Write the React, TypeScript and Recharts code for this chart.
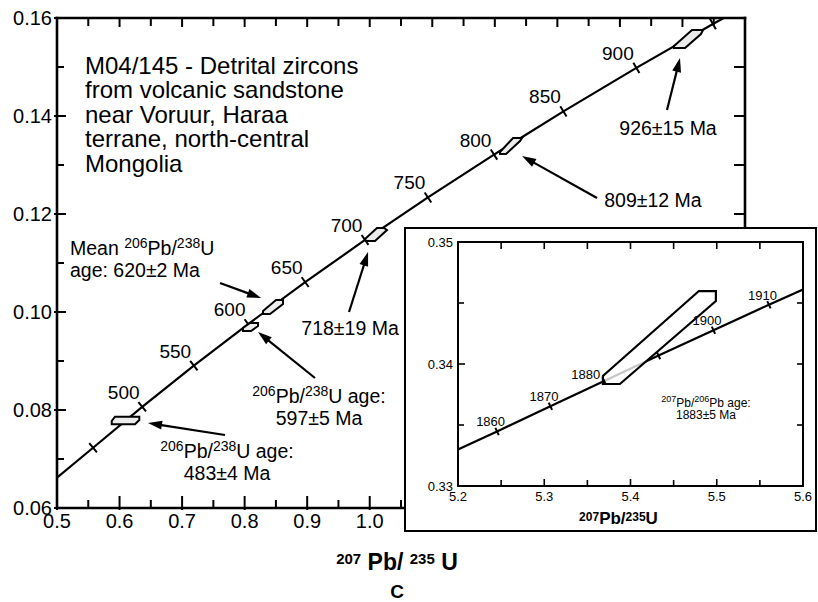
import React from 'react';
import { ScatterChart, Scatter, XAxis, YAxis } from 'recharts';

const FONT = '"Liberation Sans", Arial, Helvetica, sans-serif';

// ---------- main concordia diagram ----------
const mainXMajor = [0.5, 0.6, 0.7, 0.8, 0.9, 1.0, 1.1, 1.2, 1.3, 1.4, 1.5, 1.6];
const mainXMinor = [0.55, 0.65, 0.75, 0.85, 0.95, 1.05, 1.15, 1.25, 1.35, 1.45, 1.55];
// labelled x values (the rest of the axis lies under the inset)
const mainXLabelled = [0.5, 0.6, 0.7, 0.8, 0.9, 1.0];
const mainYMajor = [0.06, 0.08, 0.1, 0.12, 0.14, 0.16];
const mainYMinor = [0.07, 0.09, 0.11, 0.13, 0.15];

// concordia nodes every 50 Ma (207Pb/235U, 206Pb/238U)
const mainAges = [450, 500, 550, 600, 650, 700, 750, 800, 850, 900, 950];
const mainAgeX = [0.5577, 0.6362, 0.7188, 0.8056, 0.8968, 0.9925, 1.0931, 1.1987, 1.3097, 1.4263, 1.5487];
const mainAgeY = [0.0723, 0.08065, 0.08906, 0.09754, 0.10609, 0.1147, 0.12338, 0.13213, 0.14094, 0.14983, 0.15878];
const mainAgeLabels = ['', '500', '550', '600', '650', '700', '750', '800', '850', '900', ''];
const mainCurveStart = { x: 0.5, y: 0.0662 };
const mainCurveEnd = { x: 1.566, y: 0.16 };

// 2-sigma error envelopes of the analysed grains
const ellipse483 = [[0.5927, 0.07863], [0.6316, 0.07863], [0.6316, 0.07796], [0.6247, 0.07708], [0.5875, 0.07708], [0.5875, 0.07776]];
const ellipse597 = [[0.7974, 0.09673], [0.8086, 0.09776], [0.8214, 0.09776], [0.8214, 0.09714], [0.8102, 0.09612], [0.7974, 0.09612]];
const ellipse620 = [[0.8294, 0.1002], [0.8502, 0.10245], [0.8614, 0.10245], [0.8614, 0.10163], [0.8406, 0.09959], [0.8294, 0.09959]];
const ellipse718 = [[0.9924, 0.1149], [1.0116, 0.11714], [1.0228, 0.11714], [1.0276, 0.11673], [1.0084, 0.11449], [0.994, 0.11449]];
const ellipse809 = [[1.2083, 0.13265], [1.2291, 0.13551], [1.2435, 0.13551], [1.2403, 0.1349], [1.2179, 0.13224], [1.2083, 0.13224]];
const ellipse926 = [[1.4865, 0.15429], [1.5153, 0.15755], [1.5329, 0.15755], [1.5296, 0.15673], [1.5041, 0.15388], [1.4865, 0.15388]];
const mainEllipses = [ellipse483, ellipse597, ellipse620, ellipse718, ellipse809, ellipse926];

// arrows: [tail, head]
const mainArrows = [
  [[0.7606, 0.10592], [0.8262, 0.10286]],
  [[0.9669, 0.1], [0.9973, 0.11224]],
  [[0.9125, 0.08653], [0.8214, 0.09592]],
  [[0.7686, 0.0749], [0.6455, 0.07735]],
  [[1.3634, 0.12327], [1.2435, 0.13184]],
  [[1.4753, 0.14122], [1.4961, 0.15184]],
];

const titleAnchor = { x: 0.5448, y: 0.14867 };
const titleLines = [
  'M04/145 - Detrital zircons',
  'from volcanic sandstone',
  'near Voruur, Haraa',
  'terrane, north-central',
  'Mongolia',
];
const meanNote = { x: 0.5208, y: 0.11163, lines: ['Mean ^206^Pb/^238^U', 'age: 620±2 Ma'] };
const centredNotes = [
  { x: 0.9685, y: 0.09531, lines: ['718±19 Ma'] },
  { x: 0.9189, y: 0.08133, lines: ['^206^Pb/^238^U age:', '597±5 Ma'] },
  { x: 0.7718, y: 0.07014, lines: ['^206^Pb/^238^U age:', '483±4 Ma'] },
  { x: 1.4529, y: 0.12143, lines: ['809±12 Ma'] },
  { x: 1.4769, y: 0.13622, lines: ['926±15 Ma'] },
];
const mainAxisTitle = '^207^ Pb/ ^235^ U';
const panelLetter = 'C';

// ---------- inset: Palaeoproterozoic grain ----------
const insetXMajor = [5.2, 5.3, 5.4, 5.5, 5.6];
const insetXMinor = [5.25, 5.35, 5.45, 5.55];
const insetYMajor = [0.33, 0.34, 0.35];
const insetYMinor = [0.335, 0.345];

const insetAges = [1860, 1870, 1880, 1890, 1900, 1910];
const insetAgeX = [5.2453, 5.3071, 5.3695, 5.4325, 5.4962, 5.5605];
const insetAgeY = [0.33447, 0.33654, 0.33861, 0.34069, 0.34277, 0.34486];
const insetAgeLabels = ['1860', '1870', '1880', '', '1900', '1910'];
const insetCurveStart = { x: 5.2, y: 0.333 };
const insetCurveEnd = { x: 5.6, y: 0.3461 };

const ellipse1883 = [[5.368, 0.33902], [5.368, 0.33836], [5.3877, 0.33836], [5.499, 0.34516], [5.499, 0.34598], [5.4793, 0.34598]];
const insetNote = { x: 5.4875, y: 0.3365, lines: ['^207^Pb/^206^Pb age:', '1883±5 Ma'] };
const insetAxisTitle = '^207^Pb/^235^U';

// ---------- helpers ----------
type Pt = { x: number; y: number; age?: number; label?: string };

const near = (v: number, list: number[]) => list.some((q) => Math.abs(q - v) < 1e-9);
const toPts = (arr: number[][]) => arr.map(([x, y]) => ({ x, y }));
const Empty = () => <g />;

function rich(text: string, size: number, sup: number, rise: number) {
  const parts = text.split('^');
  const out: React.ReactNode[] = [];
  let raised = false;
  parts.forEach((s, k) => {
    if (!s) return;
    const want = k % 2 === 1;
    const dy = want === raised ? 0 : want ? -rise : rise;
    raised = want;
    out.push(
      <tspan key={k} fontSize={want ? sup : size} dy={dy}>
        {s}
      </tspan>
    );
  });
  return out;
}

const mainLine: Pt[] = [
  mainCurveStart,
  ...mainAges.map((age, i) => ({ age, x: mainAgeX[i], y: mainAgeY[i], label: mainAgeLabels[i] })),
  mainCurveEnd,
];
const insetLine: Pt[] = [
  insetCurveStart,
  ...insetAges.map((age, i) => ({ age, x: insetAgeX[i], y: insetAgeY[i], label: insetAgeLabels[i] })),
  insetCurveEnd,
];

type TickCfg = {
  majorIn: number;
  majorOut: number;
  minorIn: number;
  size: number;
  margin: number;
  digits: number;
  sw: number;
};

const tickFactory = (
  side: 'bottom' | 'left' | 'top' | 'right',
  majors: number[],
  labelled: number[],
  c: TickCfg
) => (p: any) => {
  const { x, y, payload } = p;
  const v = payload.value as number;
  const major = near(v, majors);
  const withLabel = near(v, labelled);
  const inL = major ? c.majorIn : c.minorIn;
  const outL = major ? c.majorOut : 0;
  let seg = { x1: x, y1: y, x2: x, y2: y };
  let label: React.ReactNode = null;
  const txt = v.toFixed(c.digits);
  if (side === 'bottom') {
    seg = { x1: x, x2: x, y1: y + outL, y2: y - inL };
    if (withLabel)
      label = (
        <text x={x} y={y + c.margin} dy="0.71em" textAnchor="middle" fontSize={c.size} fontFamily={FONT} fill="#000">
          {txt}
        </text>
      );
  } else if (side === 'left') {
    seg = { x1: x - outL, x2: x + inL, y1: y, y2: y };
    if (withLabel)
      label = (
        <text x={x - c.margin} y={y} dy="0.36em" textAnchor="end" fontSize={c.size} fontFamily={FONT} fill="#000">
          {txt}
        </text>
      );
  } else if (side === 'top') {
    seg = { x1: x, x2: x, y1: y, y2: y + inL };
  } else {
    seg = { x1: x, x2: x - inL, y1: y, y2: y };
  }
  return (
    <g>
      <line {...seg} stroke="#000" strokeWidth={c.sw} />
      {label}
    </g>
  );
};

const polygonLine = (fill: string, opacity: number, sw: number) => (p: any) => {
  const pts = (p.points || []) as { x: number; y: number }[];
  return (
    <polygon
      points={pts.map((q) => `${q.x},${q.y}`).join(' ')}
      fill={fill}
      fillOpacity={opacity}
      stroke="#000"
      strokeWidth={sw}
      strokeLinejoin="miter"
    />
  );
};

const arrowLine = (p: any) => {
  const pts = (p.points || []) as { x: number; y: number }[];
  if (pts.length < 2) return <g />;
  const [a, b] = pts;
  const dx = b.x - a.x;
  const dy = b.y - a.y;
  const L = Math.hypot(dx, dy) || 1;
  const ux = dx / L;
  const uy = dy / L;
  const head = 14;
  const half = 4.5;
  const bx = b.x - ux * head;
  const by = b.y - uy * head;
  return (
    <g>
      <line x1={a.x} y1={a.y} x2={bx + ux * 2} y2={by + uy * 2} stroke="#000" strokeWidth={2.2} />
      <polygon
        points={`${b.x},${b.y} ${bx - uy * half},${by + ux * half} ${bx + uy * half},${by - ux * half}`}
        fill="#000"
      />
    </g>
  );
};

// perpendicular age marks on the concordia, with their age labels
const markFactory = (
  line: Pt[],
  pxX: number,
  pxY: number,
  len: number,
  drawLabel: (cx: number, cy: number, pt: Pt) => React.ReactNode
) => (p: any) => {
  const pt = p.payload as Pt;
  const i = line.findIndex((q) => q.age === pt.age);
  const prev = line[Math.max(i - 1, 0)];
  const next = line[Math.min(i + 1, line.length - 1)];
  const dx = (next.x - prev.x) * pxX;
  const dy = -(next.y - prev.y) * pxY;
  const L = Math.hypot(dx, dy) || 1;
  const nx = -dy / L;
  const ny = dx / L;
  const { cx, cy } = p;
  return (
    <g>
      <line
        x1={cx - (nx * len) / 2}
        y1={cy - (ny * len) / 2}
        x2={cx + (nx * len) / 2}
        y2={cy + (ny * len) / 2}
        stroke="#000"
        strokeWidth={2}
      />
      {pt.label ? drawLabel(cx, cy, pt) : null}
    </g>
  );
};

const noteShape = (size: number, sup: number, rise: number, lh: number, anchor: 'start' | 'middle') => (p: any) => {
  const lines = (p.payload.lines || []) as string[];
  return (
    <g>
      {lines.map((ln, i) => (
        <text key={i} x={p.cx} y={p.cy + i * lh} textAnchor={anchor} fontSize={size} fontFamily={FONT} fill="#000">
          {rich(ln, size, sup, rise)}
        </text>
      ))}
    </g>
  );
};

const titleShape = (p: any) => (
  <g>
    {titleLines.map((ln, i) => (
      <text key={i} x={p.cx} y={p.cy + i * 24.6} fontSize={24} fontFamily={FONT} fill="#000">
        {ln}
      </text>
    ))}
  </g>
);

const mainCfgBottom: TickCfg = { majorIn: 12, majorOut: 2, minorIn: 8, size: 20, margin: 6, digits: 1, sw: 2 };
const mainCfgLeft: TickCfg = { majorIn: 9, majorOut: 3, minorIn: 7, size: 20, margin: 5, digits: 2, sw: 2 };
const mainCfgTop: TickCfg = { majorIn: 9, majorOut: 0, minorIn: 8, size: 20, margin: 0, digits: 2, sw: 2 };
const mainCfgRight: TickCfg = { majorIn: 11, majorOut: 0, minorIn: 11, size: 20, margin: 0, digits: 2, sw: 2 };

const insetCfgBottom: TickCfg = { majorIn: 7, majorOut: 0, minorIn: 6, size: 13, margin: 6, digits: 1, sw: 1.6 };
const insetCfgLeft: TickCfg = { majorIn: 7, majorOut: 0, minorIn: 6, size: 13, margin: 5, digits: 2, sw: 1.6 };
const insetCfgTop: TickCfg = { majorIn: 7, majorOut: 0, minorIn: 7, size: 13, margin: 0, digits: 2, sw: 1.6 };
const insetCfgRight: TickCfg = { majorIn: 6, majorOut: 0, minorIn: 6, size: 13, margin: 0, digits: 2, sw: 1.6 };

const sortU = (a: number[], b: number[]) => [...a, ...b].sort((p, q) => p - q);

const MAIN_W = 818;
const MAIN_H = 602;
const mainPxX = 688 / 1.1;
const mainPxY = 490 / 0.1;
const insetPxX = 345 / 0.4;
const insetPxY = 244 / 0.02;

const mainAxisLine = { stroke: '#000', strokeWidth: 2.6, strokeLinecap: 'square' as const };
const insetAxisLine = { stroke: '#000', strokeWidth: 2, strokeLinecap: 'square' as const };

const MainTitleLabel = (p: any) => {
  const vb = p.viewBox || { x: 0, y: 0, width: 0, height: 0 };
  const cx = vb.x + vb.width / 2 - 4;
  return (
    <g>
      <text x={cx} y={vb.y + 62} textAnchor="middle" fontFamily={FONT} fontWeight="bold" fill="#000">
        {rich(mainAxisTitle, 23, 15, 6)}
      </text>
      <text x={cx} y={vb.y + 90} textAnchor="middle" fontFamily={FONT} fontWeight="bold" fontSize={19} fill="#000">
        {panelLetter}
      </text>
    </g>
  );
};

const InsetTitleLabel = (p: any) => {
  const vb = p.viewBox || { x: 0, y: 0, width: 0, height: 0 };
  const cx = vb.x + vb.width / 2 - 12;
  return (
    <text x={cx} y={vb.y + 38} textAnchor="middle" fontFamily={FONT} fontWeight="bold" fill="#000">
      {rich(insetAxisTitle, 17, 12, 3.5)}
    </text>
  );
};

const mainMarkShape = markFactory(mainLine, mainPxX, mainPxY, 12, (cx, cy, pt) => (
  <text x={cx - 18.5} y={cy - 8} textAnchor="middle" fontSize={19} fontFamily={FONT} fill="#000">
    {pt.label}
  </text>
));

// the 1880 label sits left of the grain envelope, the others just above-left of their marks
const insetMarkShape = markFactory(insetLine, insetPxX, insetPxY, 8, (cx, cy, pt) => (
  <text
    x={pt.age === 1880 ? cx - 4 : cx + 8}
    y={pt.age === 1880 ? cy - 2 : cy - 5}
    textAnchor="end"
    fontSize={13}
    fontFamily={FONT}
    fill="#000"
  >
    {pt.label}
  </text>
));

function MainChart() {
  return (
    <ScatterChart width={MAIN_W} height={MAIN_H} margin={{ top: 14, right: 69, bottom: 64, left: 7 }}>
      <XAxis
        type="number"
        dataKey="x"
        domain={[0.5, 1.6]}
        allowDataOverflow
        ticks={sortU(mainXMajor, mainXMinor)}
        interval={0}
        height={30}
        tickSize={0}
        tickMargin={0}
        tickLine={false}
        axisLine={mainAxisLine}
        tick={tickFactory('bottom', mainXMajor, mainXLabelled, mainCfgBottom)}
        label={{ content: MainTitleLabel }}
      />
      <XAxis
        xAxisId="top"
        orientation="top"
        type="number"
        dataKey="x"
        domain={[0.5, 1.6]}
        allowDataOverflow
        ticks={sortU(mainXMajor, mainXMinor)}
        interval={0}
        height={4}
        tickSize={0}
        tickMargin={0}
        tickLine={false}
        axisLine={mainAxisLine}
        tick={tickFactory('top', mainXMajor, [], mainCfgTop)}
      />
      <YAxis
        type="number"
        dataKey="y"
        domain={[0.06, 0.16]}
        allowDataOverflow
        ticks={sortU(mainYMajor, mainYMinor)}
        interval={0}
        width={50}
        tickSize={0}
        tickMargin={0}
        tickLine={false}
        axisLine={mainAxisLine}
        tick={tickFactory('left', mainYMajor, mainYMajor, mainCfgLeft)}
      />
      <YAxis
        yAxisId="right"
        orientation="right"
        type="number"
        dataKey="y"
        domain={[0.06, 0.16]}
        allowDataOverflow
        ticks={sortU(mainYMajor, mainYMinor)}
        interval={0}
        width={4}
        tickSize={0}
        tickMargin={0}
        tickLine={false}
        axisLine={mainAxisLine}
        tick={tickFactory('right', mainYMajor, [], mainCfgRight)}
      />
      <Scatter
        data={mainLine}
        line={{ stroke: '#000', strokeWidth: 2.2 }}
        shape={Empty}
        isAnimationActive={false}
      />
      <Scatter data={mainLine.filter((q) => q.age)} shape={mainMarkShape} isAnimationActive={false} />
      {mainEllipses.map((e, i) => (
        <Scatter
          key={`e${i}`}
          data={toPts(e)}
          line={polygonLine('#ececec', 1, 2)}
          shape={Empty}
          isAnimationActive={false}
        />
      ))}
      {mainArrows.map((a, i) => (
        <Scatter key={`a${i}`} data={toPts(a)} line={arrowLine} shape={Empty} isAnimationActive={false} />
      ))}
      <Scatter data={[titleAnchor]} shape={titleShape} isAnimationActive={false} />
      <Scatter data={[meanNote]} shape={noteShape(19.5, 14, 7, 21.5, 'start')} isAnimationActive={false} />
      <Scatter data={centredNotes} shape={noteShape(19.5, 14, 7, 21.3, 'middle')} isAnimationActive={false} />
    </ScatterChart>
  );
}

function InsetChart() {
  return (
    <ScatterChart width={413} height={305} margin={{ top: 11, right: 10, bottom: 16, left: 4 }}>
      <XAxis
        type="number"
        dataKey="x"
        domain={[5.2, 5.6]}
        allowDataOverflow
        ticks={sortU(insetXMajor, insetXMinor)}
        interval={0}
        height={30}
        tickSize={0}
        tickMargin={0}
        tickLine={false}
        axisLine={insetAxisLine}
        tick={tickFactory('bottom', insetXMajor, insetXMajor, insetCfgBottom)}
        label={{ content: InsetTitleLabel }}
      />
      <XAxis
        xAxisId="top"
        orientation="top"
        type="number"
        dataKey="x"
        domain={[5.2, 5.6]}
        allowDataOverflow
        ticks={insetXMinor.concat(insetXMajor.slice(1, -1)).sort((a, b) => a - b)}
        interval={0}
        height={4}
        tickSize={0}
        tickMargin={0}
        tickLine={false}
        axisLine={insetAxisLine}
        tick={tickFactory('top', insetXMajor, [], insetCfgTop)}
      />
      <YAxis
        type="number"
        dataKey="y"
        domain={[0.33, 0.35]}
        allowDataOverflow
        ticks={sortU(insetYMajor, insetYMinor)}
        interval={0}
        width={50}
        tickSize={0}
        tickMargin={0}
        tickLine={false}
        axisLine={insetAxisLine}
        tick={tickFactory('left', insetYMajor, insetYMajor, insetCfgLeft)}
      />
      <YAxis
        yAxisId="right"
        orientation="right"
        type="number"
        dataKey="y"
        domain={[0.33, 0.35]}
        allowDataOverflow
        ticks={[0.335, 0.34, 0.345]}
        interval={0}
        width={4}
        tickSize={0}
        tickMargin={0}
        tickLine={false}
        axisLine={insetAxisLine}
        tick={tickFactory('right', insetYMajor, [], insetCfgRight)}
      />
      <Scatter
        data={insetLine}
        line={{ stroke: '#000', strokeWidth: 2.2 }}
        shape={Empty}
        isAnimationActive={false}
      />
      <Scatter
        data={toPts(ellipse1883)}
        line={polygonLine('#ffffff', 0.78, 2.2)}
        shape={Empty}
        isAnimationActive={false}
      />
      <Scatter data={insetLine.filter((q) => q.age)} shape={insetMarkShape} isAnimationActive={false} />
      <Scatter data={[insetNote]} shape={noteShape(12, 9, 4.5, 12.5, 'middle')} isAnimationActive={false} />
    </ScatterChart>
  );
}

export default function App() {
  return (
    <div style={{ position: 'absolute', left: 0, top: 0, width: MAIN_W, height: MAIN_H, background: '#fff', overflow: 'hidden' }}>
      <MainChart />
      <div
        style={{
          position: 'absolute',
          left: 404,
          top: 227,
          width: 413,
          height: 305,
          boxSizing: 'border-box',
          border: '2px solid #000',
          background: '#fff',
        }}
      >
        <div style={{ position: 'absolute', left: -2, top: -2 }}>
          <InsetChart />
        </div>
      </div>
    </div>
  );
}
